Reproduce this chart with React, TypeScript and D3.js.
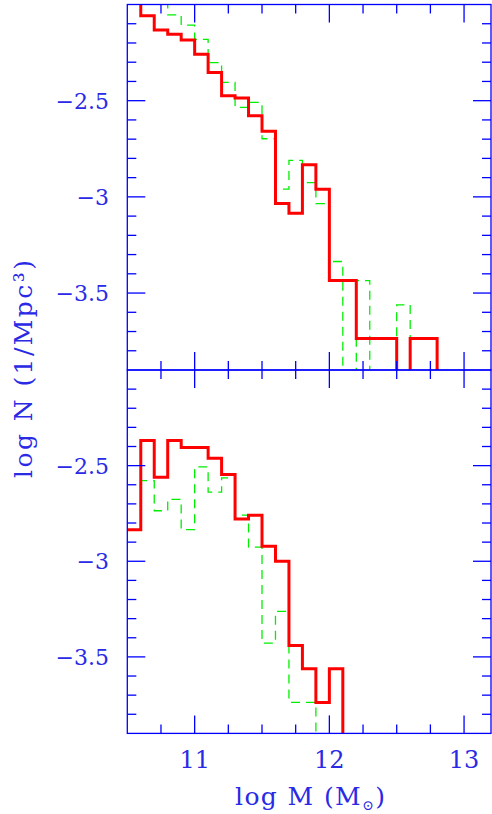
import React from "react";
import * as d3 from "d3";

// Lower edges of the log-mass bins (width 0.1 dex); the last entry closes the final bin
const binEdges = [
  10.5, 10.6, 10.7, 10.8, 10.9, 11.0, 11.1, 11.2, 11.3, 11.4, 11.5, 11.6,
  11.7, 11.8, 11.9, 12.0, 12.1, 12.2, 12.3, 12.4, 12.5, 12.6, 12.7, 12.8,
];

// log N per bin; null marks an empty bin
const upperRed = [
  -1.95, -2.059, -2.133, -2.155, -2.184, -2.258, -2.353, -2.474, -2.486, -2.578,
  -2.659, -3.034, -3.085, -2.833, -2.96, -3.435, -3.435, -3.736, -3.736, -3.736,
  null, -3.736, -3.736,
];
const upperGreen = [
  -1.95, -1.95, -1.95, -2.054, -2.107, -2.181, -2.302, -2.405, -2.535, -2.509,
  -2.698, -2.96, -2.81, -2.926, -3.035, -3.336, null, -3.435, null, null,
  -3.561, null, null,
];
const lowerRed = [
  -2.835, -2.369, -2.561, -2.369, -2.405, -2.405, -2.461, -2.547, -2.779, -2.759,
  -2.921, -3.0, -3.44, -3.562, -3.738, -3.562, null, null, null, null,
  null, null, null,
];
const lowerGreen = [
  -2.835, -2.578, -2.736, -2.676, -2.835, -2.507, -2.638, -2.564, -2.759, -2.926,
  -3.428, -3.262, -3.738, -3.738, null, null, null, null, null, null,
  null, null, null,
];

const xMajorTicks = [11, 12, 13];
const xMinorTicks = [10.75, 11.25, 11.5, 11.75, 12.25, 12.5, 12.75];
const yMajorTicks = [-2.5, -3, -3.5];
const yMinorTicks = [
  -2.1, -2.2, -2.3, -2.4, -2.6, -2.7, -2.8, -2.9, -3.1, -3.2, -3.3, -3.4,
  -3.6, -3.7, -3.8,
];
const yTickLabels = ["\u22122.5", "\u22123", "\u22123.5"];
const xTickLabels = ["11", "12", "13"];

const W = 492;
const H = 814;
const left = 127.3;
const right = 491;
const panelTops = [4.5, 370];
const panelBottoms = [370, 733.4];

const AXIS = "#0000ff";
const TEXT = "#2a2ae6";
const FONT = "'DejaVu Serif', 'Liberation Serif', serif";

const x = d3.scaleLinear().domain([10.5, 13.2]).range([left, right]);

function Panel({
  idx,
  red,
  green,
}: {
  idx: number;
  red: (number | null)[];
  green: (number | null)[];
}) {
  const top = panelTops[idx];
  const bottom = panelBottoms[idx];
  const y = d3.scaleLinear().domain([-3.9, -2.0]).range([bottom, top]);
  const below = bottom + 20;

  const histPath = (vals: (number | null)[]) => {
    const pts: [number, number][] = binEdges.map((e, i) => {
      const v = i < vals.length ? vals[i] : null;
      return [x(e), v == null ? below : y(v)];
    });
    return d3.line().curve(d3.curveStepAfter)(pts) || "";
  };

  const clipId = `clip-${idx}`;
  const major = 18;
  const minor = 9;

  return (
    <g>
      <defs>
        <clipPath id={clipId}>
          <rect x={left} y={top} width={right - left} height={bottom - top} />
        </clipPath>
      </defs>
      <g clipPath={`url(#${clipId})`}>
        <path
          d={histPath(green)}
          fill="none"
          stroke="#00ee00"
          strokeWidth={1.3}
          strokeDasharray="9,6"
        />
        <path
          d={histPath(red)}
          fill="none"
          stroke="#ff0000"
          strokeWidth={3}
          strokeLinejoin="miter"
        />
      </g>
      <rect
        x={left}
        y={top}
        width={right - left}
        height={bottom - top}
        fill="none"
        stroke={AXIS}
        strokeWidth={1.3}
      />
      {/* x ticks on top and bottom edges, pointing inward */}
      {xMajorTicks.concat(xMinorTicks).map((t) => {
        const len = xMajorTicks.includes(t) ? major : minor;
        return (
          <g key={`xt${t}`} stroke={AXIS} strokeWidth={1.3}>
            <line x1={x(t)} x2={x(t)} y1={bottom} y2={bottom - len} />
            <line x1={x(t)} x2={x(t)} y1={top} y2={top + len} />
          </g>
        );
      })}
      {/* y ticks on left and right edges, pointing inward */}
      {yMajorTicks.concat(yMinorTicks).map((t) => {
        const len = yMajorTicks.includes(t) ? major : minor;
        return (
          <g key={`yt${t}`} stroke={AXIS} strokeWidth={1.3}>
            <line x1={left} x2={left + len} y1={y(t)} y2={y(t)} />
            <line x1={right} x2={right - len} y1={y(t)} y2={y(t)} />
          </g>
        );
      })}
      {yMajorTicks.map((t, i) => (
        <text
          key={`yl${t}`}
          x={109}
          y={y(t) + 8}
          textAnchor="end"
          fontFamily={FONT}
          fontSize={22}
          fontWeight={300}
          fill={TEXT}
        >
          {yTickLabels[i]}
        </text>
      ))}
    </g>
  );
}

export default function App() {
  return (
    <svg
      width={W}
      height={H}
      style={{ position: "absolute", left: 0, top: 0, background: "#fff" }}
    >
      <rect x={0} y={0} width={W} height={H} fill="#fff" />
      <Panel idx={0} red={upperRed} green={upperGreen} />
      <Panel idx={1} red={lowerRed} green={lowerGreen} />
      {xMajorTicks.map((t, i) => (
        <text
          key={`xl${t}`}
          x={x(t)}
          y={768}
          textAnchor="middle"
          fontFamily={FONT}
          fontSize={24}
          fill={TEXT}
        >
          {xTickLabels[i]}
        </text>
      ))}
      <text
        x={235}
        y={805}
        fontFamily={FONT}
        fontSize={25}
        textLength={150}
        lengthAdjust="spacing"
        fill={TEXT}
      >
        log M (M
        <tspan fontSize={14} dy={5}>
          {"\u2299"}
        </tspan>
        <tspan dy={-5}>)</tspan>
      </text>
      <text
        transform={`translate(32,478) rotate(-90)`}
        fontFamily={FONT}
        fontSize={25}
        textLength={218}
        lengthAdjust="spacing"
        fill={TEXT}
      >
        log N (1/Mpc³)
      </text>
    </svg>
  );
}
